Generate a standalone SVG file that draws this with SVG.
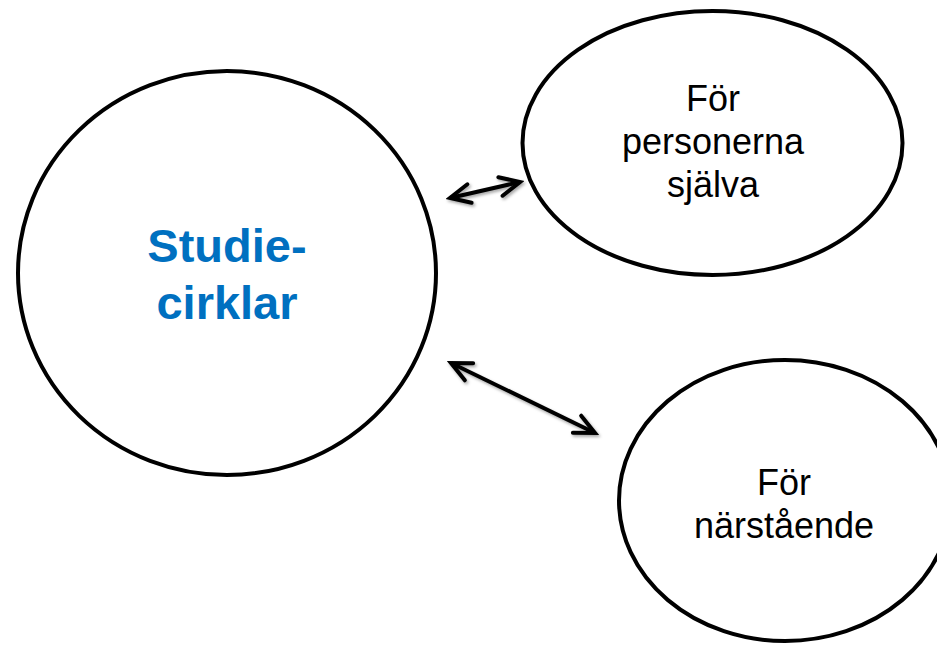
<svg xmlns="http://www.w3.org/2000/svg" width="937" height="646" viewBox="0 0 937 646">
  <style>
    .node { fill: #ffffff; stroke: #000000; stroke-width: 4; }
    .lbl { font-family: "Liberation Sans", Arial, sans-serif; font-size: 36px; fill: #000000; text-anchor: middle; }
    .main { font-family: "Liberation Sans", Arial, sans-serif; font-size: 47px; font-weight: bold; fill: #0070C0; text-anchor: middle; }
    .conn { fill: none; stroke: #000000; stroke-width: 4; marker-start: url(#head); marker-end: url(#head); }
  </style>
  <defs>
    <marker id="head" markerUnits="userSpaceOnUse" viewBox="-26 -14 30 28" refX="0" refY="0" markerWidth="30" markerHeight="28" orient="auto-start-reverse">
      <path d="M -20 -9.5 L 0 0 L -20 9.5" fill="none" stroke="#000000" stroke-width="4" stroke-linecap="round" stroke-linejoin="miter"/>
    </marker>
    <filter id="shadow" x="-20%" y="-40%" width="140%" height="180%">
      <feDropShadow dx="1.5" dy="2" stdDeviation="1.5" flood-color="#000000" flood-opacity="0.35"/>
    </filter>
  </defs>

  <g id="node-studiecirklar">
    <ellipse class="node" cx="227" cy="273" rx="209" ry="202"/>
    <text class="main" x="227" y="262">Studie-</text>
    <text class="main" x="227" y="319">cirklar</text>
  </g>

  <g id="node-personerna">
    <ellipse class="node" cx="712.5" cy="143" rx="190" ry="132"/>
    <text class="lbl" x="713" y="111">För</text>
    <text class="lbl" x="713" y="154">personerna</text>
    <text class="lbl" x="713" y="197">själva</text>
  </g>

  <g id="node-narstaende">
    <ellipse class="node" cx="785" cy="500.5" rx="166" ry="140.5"/>
    <text class="lbl" x="784" y="495">För</text>
    <text class="lbl" x="784" y="538">närstående</text>
  </g>

  <g id="connectors" filter="url(#shadow)">
    <line class="conn" x1="450" y1="198" x2="520" y2="182"/>
    <line class="conn" x1="451" y1="363" x2="595" y2="433"/>
  </g>
</svg>
